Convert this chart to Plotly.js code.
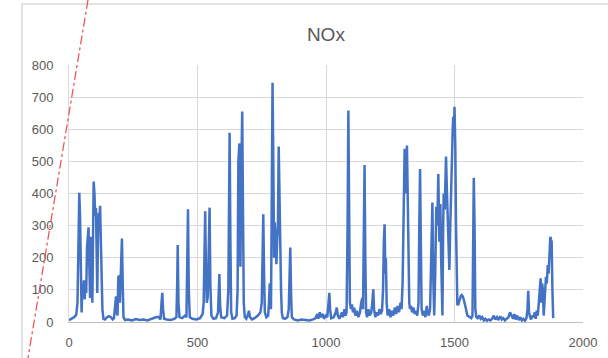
<!DOCTYPE html>
<html>
<head>
<meta charset="utf-8">
<script src="https://cdn.plot.ly/plotly-3.0.1.min.js"></script>
<style>
  html, body { margin: 0; padding: 0; background: #fff; }
  #chart { width: 608px; height: 358px; }
</style>
</head>
<body>
<div id="chart"></div>
<script>
// Sample index along the run
const sampleIndex = [
  0, 5, 12, 20, 28, 33, 37, 40, 43, 46, 49, 52, 55, 58, 61, 64, 67, 70, 73, 76,
  79, 82, 85, 88, 91, 94, 96, 99, 102, 105, 108, 110, 113, 116, 119, 121, 124, 127, 130, 134,
  140, 147, 155, 163, 170, 175, 179, 183, 186, 189, 192, 195, 198, 202, 206, 209, 212, 218, 230, 245,
  260, 275, 290, 305, 320, 335, 348, 356, 360, 363, 366, 370, 380, 395, 410, 418, 421, 423, 426, 430,
  440, 452, 457, 460, 463, 466, 470, 480, 495, 510, 520, 524, 527, 530, 533, 536, 540, 544, 547, 550,
  554, 562, 572, 580, 583, 585, 588, 592, 605, 615, 620, 622, 625, 628, 631, 636, 645, 652, 656, 659,
  663, 665, 667, 670, 674, 677, 680, 684, 690, 697, 700, 704, 712, 722, 735, 745, 750, 753, 756, 759,
  762, 768, 775, 778, 781, 783, 786, 789, 792, 795, 798, 801, 804, 807, 810, 813, 816, 819, 822, 825,
  828, 832, 840, 850, 855, 858, 861, 864, 867, 875, 890, 905, 920, 935, 950, 960, 966, 970, 976, 980,
  988, 992, 1000, 1005, 1010, 1013, 1016, 1020, 1030, 1038, 1042, 1046, 1052, 1058, 1062, 1066, 1072, 1076, 1080, 1084,
  1087, 1090, 1093, 1097, 1101, 1105, 1110, 1114, 1120, 1126, 1132, 1137, 1141, 1144, 1147, 1150, 1153, 1156, 1160, 1165,
  1170, 1176, 1180, 1184, 1187, 1192, 1198, 1203, 1208, 1213, 1218, 1222, 1225, 1228, 1231, 1233, 1236, 1240, 1246, 1251,
  1257, 1262, 1268, 1273, 1279, 1284, 1290, 1294, 1298, 1302, 1306, 1309, 1312, 1315, 1318, 1321, 1324, 1327, 1331, 1335,
  1340, 1345, 1350, 1355, 1360, 1363, 1366, 1369, 1372, 1377, 1382, 1387, 1392, 1396, 1400, 1405, 1409, 1414, 1417, 1421,
  1425, 1429, 1433, 1437, 1441, 1445, 1448, 1450, 1453, 1456, 1458, 1462, 1467, 1470, 1472, 1476, 1478, 1480, 1483, 1486,
  1490, 1493, 1495, 1498, 1500, 1503, 1506, 1509, 1511, 1515, 1520, 1524, 1528, 1532, 1536, 1540, 1545, 1550, 1555, 1560,
  1565, 1570, 1572, 1575, 1578, 1581, 1585, 1590, 1597, 1602, 1608, 1614, 1620, 1626, 1632, 1640, 1648, 1653, 1658, 1665,
  1670, 1678, 1684, 1690, 1696, 1702, 1710, 1716, 1722, 1728, 1733, 1738, 1744, 1750, 1756, 1762, 1768, 1774, 1780, 1784,
  1787, 1790, 1794, 1798, 1803, 1808, 1812, 1816, 1820, 1824, 1828, 1831, 1835, 1838, 1841, 1844, 1847, 1850, 1853, 1856,
  1859, 1863, 1866, 1869, 1873, 1876, 1878, 1881, 1884
];

// NOx reading at each sample
const noxValues = [
  6, 8, 10, 15, 22, 60, 250, 402, 330, 150, 30, 110, 85, 130, 70, 120, 90, 230, 280, 295,
  180, 75, 265, 140, 60, 300, 437, 400, 330, 355, 150, 90, 280, 340, 330, 362, 250, 120, 40, 10,
  8, 14, 18, 15, 8, 12, 40, 80, 30, 20, 140, 145, 60, 150, 260, 120, 15, 6, 8, 5,
  9, 6, 8, 5, 10, 14, 16, 8, 60, 91, 40, 10, 8, 6, 10, 15, 120, 240, 60, 15,
  12, 20, 15, 150, 351, 100, 15, 10, 8, 12, 25, 60, 200, 345, 150, 60, 80, 250, 356, 120,
  20, 10, 12, 30, 100, 149, 50, 15, 12, 20, 100, 400, 589, 250, 30, 10, 12, 20, 100, 500,
  556, 300, 172, 450, 655, 350, 60, 15, 10, 25, 35, 15, 8, 12, 20, 30, 60, 200, 335, 150,
  30, 15, 20, 60, 120, 115, 40, 400, 745, 500, 200, 310, 240, 180, 250, 300, 546, 350, 180, 100,
  30, 12, 10, 15, 40, 150, 232, 90, 15, 8, 5, 8, 6, 5, 8, 12, 25, 10, 30, 15,
  25, 10, 20, 15, 60, 91, 40, 12, 15, 30, 45, 20, 10, 25, 30, 15, 40, 20, 30, 300,
  658, 350, 60, 40, 55, 30, 45, 20, 35, 15, 30, 60, 75, 40, 250, 489, 200, 30, 15, 40,
  20, 30, 60, 102, 40, 15, 30, 20, 40, 25, 35, 100, 250, 304, 150, 198, 60, 20, 40, 15,
  35, 20, 45, 25, 50, 30, 60, 40, 120, 300, 539, 480, 400, 549, 350, 120, 60, 40, 50, 30,
  45, 25, 35, 20, 60, 300, 476, 250, 40, 20, 35, 15, 50, 30, 20, 40, 200, 372, 150, 20,
  150, 359, 300, 461, 250, 367, 200, 75, 20, 300, 400, 350, 515, 420, 360, 300, 200, 162, 280, 400,
  550, 600, 639, 600, 670, 550, 300, 120, 53, 55, 70, 80, 84, 80, 70, 60, 40, 20, 18, 15,
  12, 20, 250, 449, 300, 40, 15, 12, 20, 10, 15, 5, 10, 4, 8, 5, 12, 20, 8, 15,
  6, 18, 8, 12, 5, 10, 15, 30, 20, 10, 25, 8, 20, 6, 15, 5, 10, 4, 12, 40,
  97, 30, 15, 8, 20, 15, 30, 10, 35, 20, 60, 100, 136, 60, 120, 100, 20, 60, 100, 141,
  120, 177, 150, 200, 265, 255, 250, 100, 12
];

const xTicks = [0, 500, 1000, 1500, 2000];
const yTicks = [0, 100, 200, 300, 400, 500, 600, 700, 800];

const labelFont = { family: 'Liberation Sans, Arial, sans-serif', size: 13, color: '#595959' };
const gridColor = '#d9d9d9';

const trace = {
  x: sampleIndex,
  y: noxValues,
  type: 'scatter',
  mode: 'lines',
  line: { color: '#4472c4', width: 2.5 },
  hoverinfo: 'x+y'
};

const layout = {
  width: 608,
  height: 358,
  margin: { l: 69, r: 25, t: 65, b: 36 },
  paper_bgcolor: '#ffffff',
  plot_bgcolor: '#ffffff',
  showlegend: false,
  title: {
    text: 'NOx',
    font: { family: 'Liberation Sans, Arial, sans-serif', size: 19, color: '#595959' },
    x: 0.536, xanchor: 'center',
    y: 0.905, yanchor: 'middle'
  },
  xaxis: {
    range: [0, 2000],
    tickvals: xTicks,
    ticktext: xTicks.map(String),
    showgrid: true,
    gridcolor: gridColor,
    gridwidth: 1,
    zeroline: false,
    showline: true,
    linecolor: '#bfbfbf',
    linewidth: 1,
    ticks: 'outside',
    ticklen: 8,
    tickcolor: 'rgba(0,0,0,0)',
    tickfont: labelFont,
    fixedrange: true
  },
  yaxis: {
    range: [0, 800],
    tickvals: yTicks,
    ticktext: yTicks.map(String),
    showgrid: true,
    gridcolor: gridColor,
    gridwidth: 1,
    zeroline: false,
    showline: true,
    linecolor: '#d9d9d9',
    linewidth: 1,
    ticks: 'outside',
    ticklen: 12,
    tickcolor: 'rgba(0,0,0,0)',
    tickfont: labelFont,
    fixedrange: true
  },
  shapes: [
    // chart frame
    {
      type: 'rect', xref: 'paper', yref: 'paper',
      x0: -0.0914, x1: 1.2, y0: -0.3, y1: 1.237,
      line: { color: '#d9d9d9', width: 1.5 },
      fillcolor: 'rgba(0,0,0,0)', layer: 'below'
    },
    // red dash-dot guide stroke
    {
      type: 'line', xref: 'paper', yref: 'paper',
      x0: 0.037, y0: 1.253, x1: -0.0798, y1: -0.140,
      line: { color: '#ee4b4b', width: 1.2, dash: 'dashdot' },
      layer: 'above'
    }
  ]
};

Plotly.newPlot('chart', [trace], layout, { displayModeBar: false, staticPlot: true });
</script>
</body>
</html>
